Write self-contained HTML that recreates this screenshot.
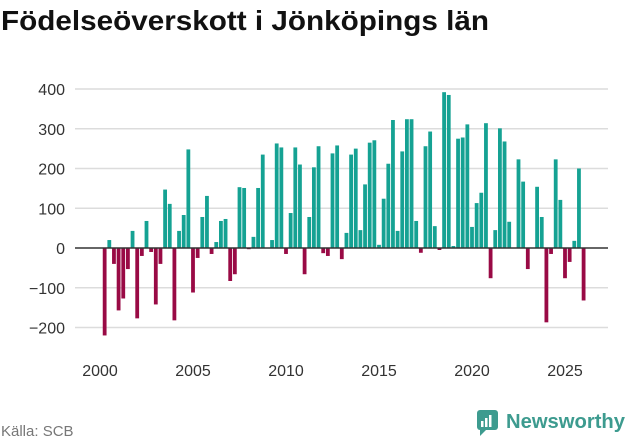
<!DOCTYPE html>
<html><head><meta charset="utf-8"><style>
body{margin:0;background:#fff;font-family:"Liberation Sans",sans-serif;}
#wrap{position:relative;width:631px;height:439px;overflow:hidden;}
</style></head><body>
<div id="wrap">
<svg id="chart" width="631" height="439">
<text x="1" y="30" font-size="28" font-weight="bold" fill="#111" textLength="488" lengthAdjust="spacingAndGlyphs">Födelseöverskott i Jönköpings län</text>
<g id="grid"></g><g id="bars"></g><g id="axes"></g>
<text x="1" y="436" font-size="15" fill="#777">Källa: SCB</text>
<g>
<rect x="477" y="410" width="21" height="20" rx="3" fill="#3d9b8f"/>
<polygon points="480,429 487,429 480,436" fill="#3d9b8f"/>
<rect x="481" y="421" width="2.5" height="6" fill="#fff"/><rect x="485" y="418" width="2.5" height="9" fill="#fff"/><rect x="489" y="415" width="2.5" height="12" fill="#fff"/>
<text x="506" y="428" font-size="20" font-weight="bold" fill="#3d9b8f" textLength="119" lengthAdjust="spacingAndGlyphs">Newsworthy</text>
</g>
</svg>
</div>
<script>
const values=[-220,20,-40,-157,-127,-53,43,-177,-20,68,-10,-142,-40,147,111,-182,43,83,248,-112,-25,78,131,-15,15,68,73,-83,-66,153,151,-3,28,151,235,0,20,263,253,-15,88,253,210,-66,78,203,256,-13,-20,238,258,-28,38,235,250,45,160,265,271,8,124,212,322,43,243,324,324,68,-12,256,293,55,-5,392,385,5,275,278,311,53,113,139,314,-76,45,301,268,66,0,223,167,-53,0,154,78,-187,-15,223,121,-76,-35,18,200,-132];
const yTicks=[400,300,200,100,0,-100,-200];
const yTickLabels=["400","300","200","100","0","−100","−200"];
const xTicks=[2000,2005,2010,2015,2020,2025];
const startYear=2000;
const NS="http://www.w3.org/2000/svg";
function y(v){return 248-v*0.3975;}
function x(yr){return 100+(yr-2000)*18.6;}
function mk(tag,attrs,parent){const e=document.createElementNS(NS,tag);for(const k in attrs)e.setAttribute(k,attrs[k]);parent.appendChild(e);return e;}
const grid=document.getElementById('grid'),bars=document.getElementById('bars'),axes=document.getElementById('axes');
yTicks.forEach((t,i)=>{
 if(t!==0){const l=mk('line',{x1:75,x2:608,y1:y(t),y2:y(t),stroke:'#dcdcdc','stroke-width':1.5},grid);
 
 }
 const tx=mk('text',{x:65,y:y(t)+6,'text-anchor':'end','font-size':16,fill:'#333'},axes);
 tx.textContent=yTickLabels[i];
 
 
});
values.forEach((v,i)=>{
 const cx=x(startYear+(i+1)/4);
 const top=Math.min(y(v),y(0)),h=Math.abs(y(v)-y(0));
 const r=mk('rect',{x:cx-1.9,y:top,width:3.8,height:h,fill:v>=0?'#15a293':'#990a45'},bars);
 
 
});
const z=mk('line',{x1:75,x2:608,y1:y(0),y2:y(0),stroke:'#333','stroke-width':1.5},axes);


xTicks.forEach(t=>{
 const tx=mk('text',{x:x(t),y:376,'text-anchor':'middle','font-size':16,fill:'#333'},axes);
 tx.textContent=t;
 
 
});
</script>
</body></html>
